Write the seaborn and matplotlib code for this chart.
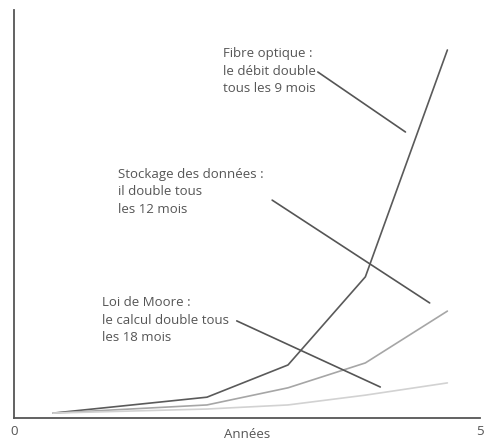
import matplotlib
matplotlib.use("Agg")
import matplotlib.pyplot as plt
import seaborn as sns
import pandas as pd

# Data (y in arbitrary units 0-100)
annees = [0.42, 2.07, 2.94, 3.77, 4.65]
fibre = [1.2, 5.1, 13.0, 34.6, 90.2]
stockage = [1.2, 3.2, 7.4, 13.5, 26.2]
moore = [1.2, 2.2, 3.2, 5.6, 8.6]
series_names = ["Fibre optique", "Stockage", "Moore"]
labels = [
    "Fibre optique :\nle débit double\ntous les 9 mois",
    "Stockage des données :\nil double tous\nles 12 mois",
    "Loi de Moore :\nle calcul double tous\nles 18 mois",
]
x_ticks = [0, 5]
x_label = "Années"

df = pd.concat([
    pd.DataFrame({"x": annees, "y": vals, "serie": name})
    for name, vals in zip(series_names, [fibre, stockage, moore])
])

sns.set_style("white")
plt.rcParams["font.family"] = ["Open Sans", "DejaVu Sans"]

fig = plt.figure(figsize=(4.84, 4.41), dpi=100)
ax = fig.add_axes([14 / 484, 23 / 441, 466 / 484, 408 / 441])

palette = {"Fibre optique": "#5a5a5a", "Stockage": "#a6a6a6", "Moore": "#d2d2d2"}
sns.lineplot(data=df, x="x", y="y", hue="serie", palette=palette,
             linewidth=1.2, legend=False, ax=ax, sort=False)

ax.set_xlim(0, 5)
ax.set_ylim(0, 100)
ax.set_xticks(x_ticks)
ax.set_xticklabels([str(t) for t in x_ticks])
ax.set_yticks([])
ax.tick_params(axis="x", length=0, pad=5, labelsize=9.5, colors="#555555")
ax.set_xlabel(x_label, fontsize=9.5, color="#555555", labelpad=-7)
ax.set_ylabel("")
for side in ["top", "right"]:
    ax.spines[side].set_visible(False)
for side in ["left", "bottom"]:
    ax.spines[side].set_color("#555555")
    ax.spines[side].set_linewidth(1.3)

text_kw = dict(fontsize=9.5, color="#555555", va="center", ha="left",
               linespacing=1.45)
ann_text_pos = [(2.24, 85.0), (1.12, 55.4), (0.94, 24.0)]
ann_line_start = [(3.26, 84.8), (2.77, 53.4), (2.39, 23.8)]
ann_line_end = [(4.20, 70.1), (4.46, 28.2), (3.93, 7.6)]
for lab, tp, s, e in zip(labels, ann_text_pos, ann_line_start, ann_line_end):
    ax.text(tp[0], tp[1], lab, **text_kw)
    ax.annotate("", xy=e, xytext=s,
                arrowprops=dict(arrowstyle="-", color="#555555", lw=1.2,
                                shrinkA=0, shrinkB=0))

fig.savefig("out.png", dpi=100)
